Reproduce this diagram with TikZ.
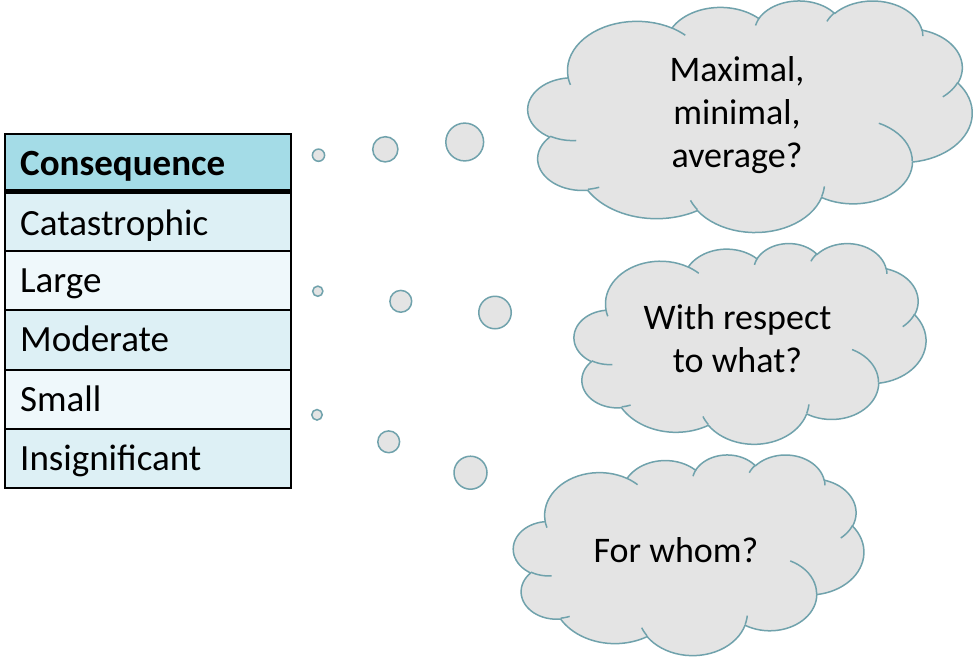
\documentclass[tikz,border=0pt]{standalone}
\usepackage{fontspec}
\setmainfont{Carlito}
\definecolor{cldfill}{RGB}{228,228,228}
\definecolor{cldline}{RGB}{112,162,172}
\definecolor{hdrfill}{RGB}{164,220,231}
\definecolor{rowdark}{RGB}{221,240,245}
\definecolor{rowlight}{RGB}{239,248,251}
\makeatletter
\def\cld@out{}
\def\cld@in{}
\newcommand\CldArc[7]{%
  \pgfmathsetmacro\cld@ts{atan2((#4)*sin(#6),(#5)*cos(#6))}%
  \pgfmathsetmacro\cld@te{atan2((#4)*sin((#6)+(#7)),(#5)*cos((#6)+(#7)))}%
  \pgfmathsetmacro\cld@d{\cld@te-\cld@ts}%
  \pgfmathsetmacro\cld@d{(\cld@d<0)?(\cld@d+360):(\cld@d)}%
  \pgfmathsetmacro\cld@tend{\cld@ts+\cld@d}%
  \pgfmathsetmacro\cld@cx{(#2)-(#4)*cos(\cld@ts)}%
  \pgfmathsetmacro\cld@cy{(#3)-(#5)*sin(\cld@ts)}%
  \pgfmathsetmacro\cld@ex{\cld@cx+(#4)*cos(\cld@tend)}%
  \pgfmathsetmacro\cld@ey{\cld@cy+(#5)*sin(\cld@tend)}%
  \ifx#1o%
    \xdef\cld@out{\unexpanded\expandafter{\cld@out} -- plot[domain=\cld@ts:\cld@tend] ({\cld@cx+#4*cos(\noexpand\x)},{\cld@cy+#5*sin(\noexpand\x)})}%
  \else
    \xdef\cld@in{\unexpanded\expandafter{\cld@in} plot[domain=\cld@ts:\cld@tend] ({\cld@cx+#4*cos(\noexpand\x)},{\cld@cy+#5*sin(\noexpand\x)})}%
  \fi
  \xdef\cldpx{\cld@ex}\xdef\cldpy{\cld@ey}%
}
% outline of the cloud, in a 100 x 100 box, y downwards
\def\cldpx{9.028}\def\cldpy{33.264}
\CldArc{o}{\cldpx}{\cldpy}{15.632}{21.273}{-190.4875}{123.7805}
\CldArc{o}{\cldpx}{\cldpy}{12.345}{16.822}{-144.1024}{89.9452}
\CldArc{o}{\cldpx}{\cldpy}{10.104}{13.762}{-145.8079}{99.7230}
\CldArc{o}{\cldpx}{\cldpy}{11.243}{15.266}{-130.9861}{117.2417}
\CldArc{o}{\cldpx}{\cldpy}{12.345}{16.836}{-78.7089}{109.0269}
\CldArc{o}{\cldpx}{\cldpy}{15.683}{21.343}{-46.2673}{130.2690}
\CldArc{o}{\cldpx}{\cldpy}{13.391}{18.211}{0.6250}{114.0333}
\CldArc{o}{\cldpx}{\cldpy}{15.630}{21.331}{22.4516}{115.1726}
\CldArc{o}{\cldpx}{\cldpy}{17.870}{24.405}{66.2426}{75.7110}
\CldArc{o}{\cldpx}{\cldpy}{10.093}{13.699}{-274.9421}{146.7356}
\CldArc{o}{\cldpx}{\cldpy}{10.058}{13.762}{-246.8285}{152.5189}
% inner arcs
\CldArc{i}{10.863}{60.595}{10.058}{13.762}{86.742}{26.430}
\CldArc{i}{16.037}{80.785}{10.093}{13.699}{73.610}{11.447}
\CldArc{i}{38.144}{90.486}{15.630}{21.331}{137.624}{14.081}
\CldArc{i}{66.729}{80.442}{15.630}{21.331}{6.453}{15.998}
\CldArc{i}{79.002}{53.134}{13.391}{18.211}{-70.292}{70.917}
\CldArc{i}{96.755}{35.542}{12.345}{16.836}{30.318}{27.752}
\CldArc{i}{88.713}{12.560}{11.243}{15.266}{-13.744}{14.859}
\CldArc{i}{67.310}{9.148}{11.243}{15.266}{-149.181}{18.195}
\CldArc{i}{51.252}{10.926}{10.104}{13.762}{-163.494}{17.686}
\CldArc{i}{32.407}{12.019}{15.632}{21.273}{-66.707}{12.319}
\CldArc{i}{9.553}{36.549}{15.632}{21.273}{157.654}{11.858}
\xdef\CloudPaths{\noexpand\filldraw[cldshape] (9.028,33.264) \unexpanded\expandafter{\cld@out} -- cycle; \noexpand\draw[cldinner] \unexpanded\expandafter{\cld@in};}
\makeatother
\tikzset{
  cldshape/.style={fill=cldfill, draw=cldline, line width=1.5pt, samples=25, line join=round},
  cldinner/.style={draw=cldline, line width=1.5pt, samples=12},
  bubble/.style={circle, fill=cldfill, draw=cldline, line width=1.5pt, inner sep=0pt},
  tabtxt/.style={anchor=base west, inner sep=0pt, font=\fontsize{37pt}{44pt}\selectfont},
  cldtxt/.style={anchor=base, inner sep=0pt, font=\fontsize{36pt}{43pt}\selectfont},
  tabline/.style={draw=black, line width=2pt},
}
\begin{document}
\begin{tikzpicture}[x=1pt,y=-1pt]
\useasboundingbox (0,0) rectangle (975,657);
\fill[white] (0,0) rectangle (975,657);
% table
\fill[hdrfill] (4.5,133.5) rectangle (291,191.5);
\fill[rowdark] (4.5,191.5) rectangle (291,251.2);
\fill[rowlight] (4.5,251.2) rectangle (291,310);
\fill[rowdark] (4.5,310) rectangle (291,370);
\fill[rowlight] (4.5,370) rectangle (291,428.8);
\fill[rowdark] (4.5,428.8) rectangle (291,488);
\draw[tabline] (4.5,251.2) -- (291,251.2);
\draw[tabline] (4.5,310) -- (291,310);
\draw[tabline] (4.5,370) -- (291,370);
\draw[tabline] (4.5,428.8) -- (291,428.8);
\draw[black, line width=5.5pt] (4.5,191.7) -- (291,191.7);
\draw[tabline] (4.5,133.5) rectangle (291,488);
\node[tabtxt, font=\fontsize{37pt}{44pt}\selectfont\bfseries] (hdr) at (20,175) {Consequence};
\node[tabtxt] (r1) at (20,235) {Catastrophic};
\node[tabtxt] (r2) at (20,292.5) {Large};
\node[tabtxt] (r3) at (20,351.7) {Moderate};
\node[tabtxt] (r4) at (20,411.5) {Small};
\node[tabtxt] (r5) at (20,470) {Insignificant};
% bubbles
\node[bubble, minimum size=12.2pt] (b11) at (318.5,155.2) {};
\node[bubble, minimum size=25.2pt] (b12) at (385.3,149.3) {};
\node[bubble, minimum size=37.8pt] (b13) at (464.7,142) {};
\node[bubble, minimum size=10.2pt] (b21) at (317.8,291.2) {};
\node[bubble, minimum size=21.8pt] (b22) at (400.8,301.3) {};
\node[bubble, minimum size=32.5pt] (b23) at (495,312.5) {};
\node[bubble, minimum size=10.5pt] (b31) at (317,414.8) {};
\node[bubble, minimum size=21.8pt] (b32) at (388.7,441.8) {};
\node[bubble, minimum size=33pt] (b33) at (470.5,472.7) {};
% clouds
\begin{scope}[shift={(528,0.2)}, x=4.441pt, y=-2.315pt]
  \CloudPaths
\end{scope}
\begin{scope}[shift={(574.2,242.9)}, x=3.517pt, y=-2.007pt]
  \CloudPaths
\end{scope}
\begin{scope}[shift={(513.5,454.3)}, x=3.503pt, y=-2.006pt]
  \CloudPaths
\end{scope}
% cloud texts
\node[cldtxt] (q1a) at (737,81) {Maximal,};
\node[cldtxt] (q1b) at (737,124) {minimal,};
\node[cldtxt] (q1c) at (737,167) {average?};
\node[cldtxt] (q2a) at (737.5,329) {With respect};
\node[cldtxt] (q2b) at (737.5,372) {to what?};
\node[cldtxt] (q3) at (676,562) {For whom?};
\end{tikzpicture}
\end{document}
